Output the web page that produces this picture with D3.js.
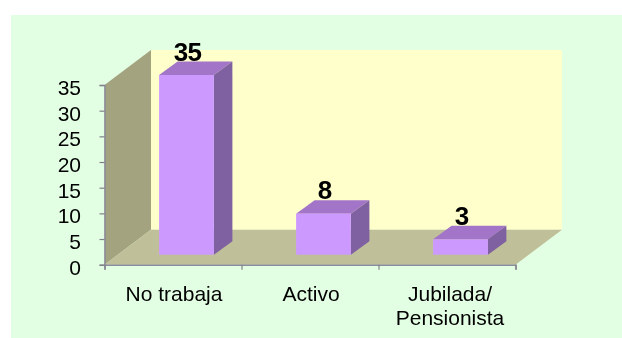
<!DOCTYPE html>
<html>
<head>
<meta charset="utf-8">
<script src="https://cdn.jsdelivr.net/npm/d3@7"></script>
<style>
html, body { margin: 0; padding: 0; background: #fff; }
svg { display: block; }
text { font-family: "Liberation Sans", Arial, sans-serif; fill: #000; }
</style>
</head>
<body>
<svg id="chart" width="622" height="338"></svg>
<script>
// data
var categories = ["No trabaja", "Activo", "Jubilada/|Pensionista"];
var values = [35, 8, 3];
var yTicks = [0, 5, 10, 15, 20, 25, 30, 35];

var svg = d3.select("#chart");

//blur, the original is a resampled picture
var defs = svg.append("defs");
defs.append("filter").attr("id", "soft")
    .attr("x", "-5%").attr("y", "-5%").attr("width", "110%").attr("height", "110%")
    .append("feGaussianBlur").attr("stdDeviation", 0.5);
defs.append("filter").attr("id", "softText")
    .attr("x", "-5%").attr("y", "-5%").attr("width", "110%").attr("height", "110%")
    .append("feGaussianBlur").attr("stdDeviation", 0.35);

var x = d3.scaleBand().domain(categories).range([104.5, 515.5]);
var y = d3.scaleLinear().domain([0, 35]).range([264.7, 85]);
var edge = d3.scaleLinear().domain([0, categories.length]).range([104.5, 515.5]);

//3d offsets
var depthX = 46.5, depthY = -35;
var shiftX = 13.5, shiftY = -10;
var barDepthX = 18.5, barDepthY = -13.5;
var barW = x.bandwidth() * 0.4;

function poly(pts) { return pts.map(function(p) { return p.join(","); }).join(" "); }

//panel
svg.append("rect").attr("x", 11).attr("y", 15).attr("width", 611).attr("height", 323)
    .attr("fill", "#e3ffe3");

var plot = svg.append("g").attr("filter", "url(#soft)");
var x0 = x.range()[0], x1 = x.range()[1], y0 = y(0), yT = y(35);

//back wall
plot.append("polygon")
    .attr("points", poly([[x0 + depthX, yT + depthY], [x1 + depthX, yT + depthY], [x1 + depthX, y0 + depthY], [x0 + depthX, y0 + depthY]]))
    .attr("fill", "#ffffcc");
//side wall
plot.append("polygon")
    .attr("points", poly([[x0, yT], [x0 + depthX, yT + depthY], [x0 + depthX, y0 + depthY], [x0, y0]]))
    .attr("fill", "#a3a380");
//floor
plot.append("polygon")
    .attr("points", poly([[x0, y0], [x1, y0], [x1 + depthX, y0 + depthY], [x0 + depthX, y0 + depthY]]))
    .attr("fill", "#bfbf99");

//bars
var bars = plot.selectAll("g.bar")
    .data(values)
    .enter()
    .append("g")
    .attr("class", "bar");

function left(d, i) { return x(categories[i]) + (x.bandwidth() - barW) / 2 + shiftX; }

bars.append("polygon")
    .attr("points", function(d, i) {
        var l = left(d, i), t = y(d) + shiftY;
        return poly([[l, t], [l + barW, t], [l + barW + barDepthX, t + barDepthY], [l + barDepthX, t + barDepthY]]);
    })
    .attr("fill", "#a375c8");
bars.append("polygon")
    .attr("points", function(d, i) {
        var r = left(d, i) + barW, t = y(d) + shiftY, b = y0 + shiftY;
        return poly([[r, t], [r + barDepthX, t + barDepthY], [r + barDepthX, b + barDepthY], [r, b]]);
    })
    .attr("fill", "#7f60a0");
bars.append("rect")
    .attr("x", left)
    .attr("y", function(d) { return y(d) + shiftY; })
    .attr("width", barW)
    .attr("height", function(d) { return y0 - y(d); })
    .attr("fill", "#cc99ff");

//axes
var yAxis = plot.append("g")
    .attr("transform", "translate(" + x0 + ",0)")
    .call(d3.axisLeft(y).tickValues(yTicks).tickSize(5).tickFormat(""));
var xAxis = plot.append("g")
    .attr("transform", "translate(0," + y0 + ")")
    .call(d3.axisBottom(edge).tickValues(d3.range(categories.length + 1)).tickSize(5).tickFormat(""));
svg.selectAll(".domain").attr("stroke", "#8c8c9c").attr("stroke-width", 1.5);
svg.selectAll(".tick line").attr("stroke", "#808088").attr("stroke-width", 1.2);

//tick labels
svg.append("g").attr("filter", "url(#softText)").selectAll("text")
    .data(yTicks)
    .enter()
    .append("text")
    .attr("x", 81)
    .attr("y", function(d) { return y(d) + 10; })
    .attr("text-anchor", "end")
    .attr("font-size", 21)
    .text(function(d) { return d; });

//category labels
var catLabels = svg.append("g").attr("filter", "url(#softText)").selectAll("text")
    .data(categories)
    .enter()
    .append("text")
    .attr("text-anchor", "middle")
    .attr("font-size", 21)
    .attr("y", 301);
catLabels.selectAll("tspan")
    .data(function(d, i) {
        return d.split("|").map(function(s) { return { s: s, c: x(d) + x.bandwidth() / 2 + (i == 2 ? 3 : 1) }; });
    })
    .enter()
    .append("tspan")
    .attr("x", function(d) { return d.c; })
    .attr("dy", function(d, i) { return i ? 23.5 : 0; })
    .text(function(d) { return d.s; });

//value labels
svg.append("g").attr("filter", "url(#softText)").selectAll("text")
    .data(values)
    .enter()
    .append("text")
    .attr("x", function(d, i) { return left(d, i) + barW / 2 + 1; })
    .attr("y", function(d) { return y(d) + shiftY - 14.5; })
    .attr("text-anchor", "middle")
    .attr("font-size", 26)
    .attr("letter-spacing", -0.8)
    .attr("font-weight", "bold")
    .text(function(d) { return d; });
</script>
</body>
</html>
